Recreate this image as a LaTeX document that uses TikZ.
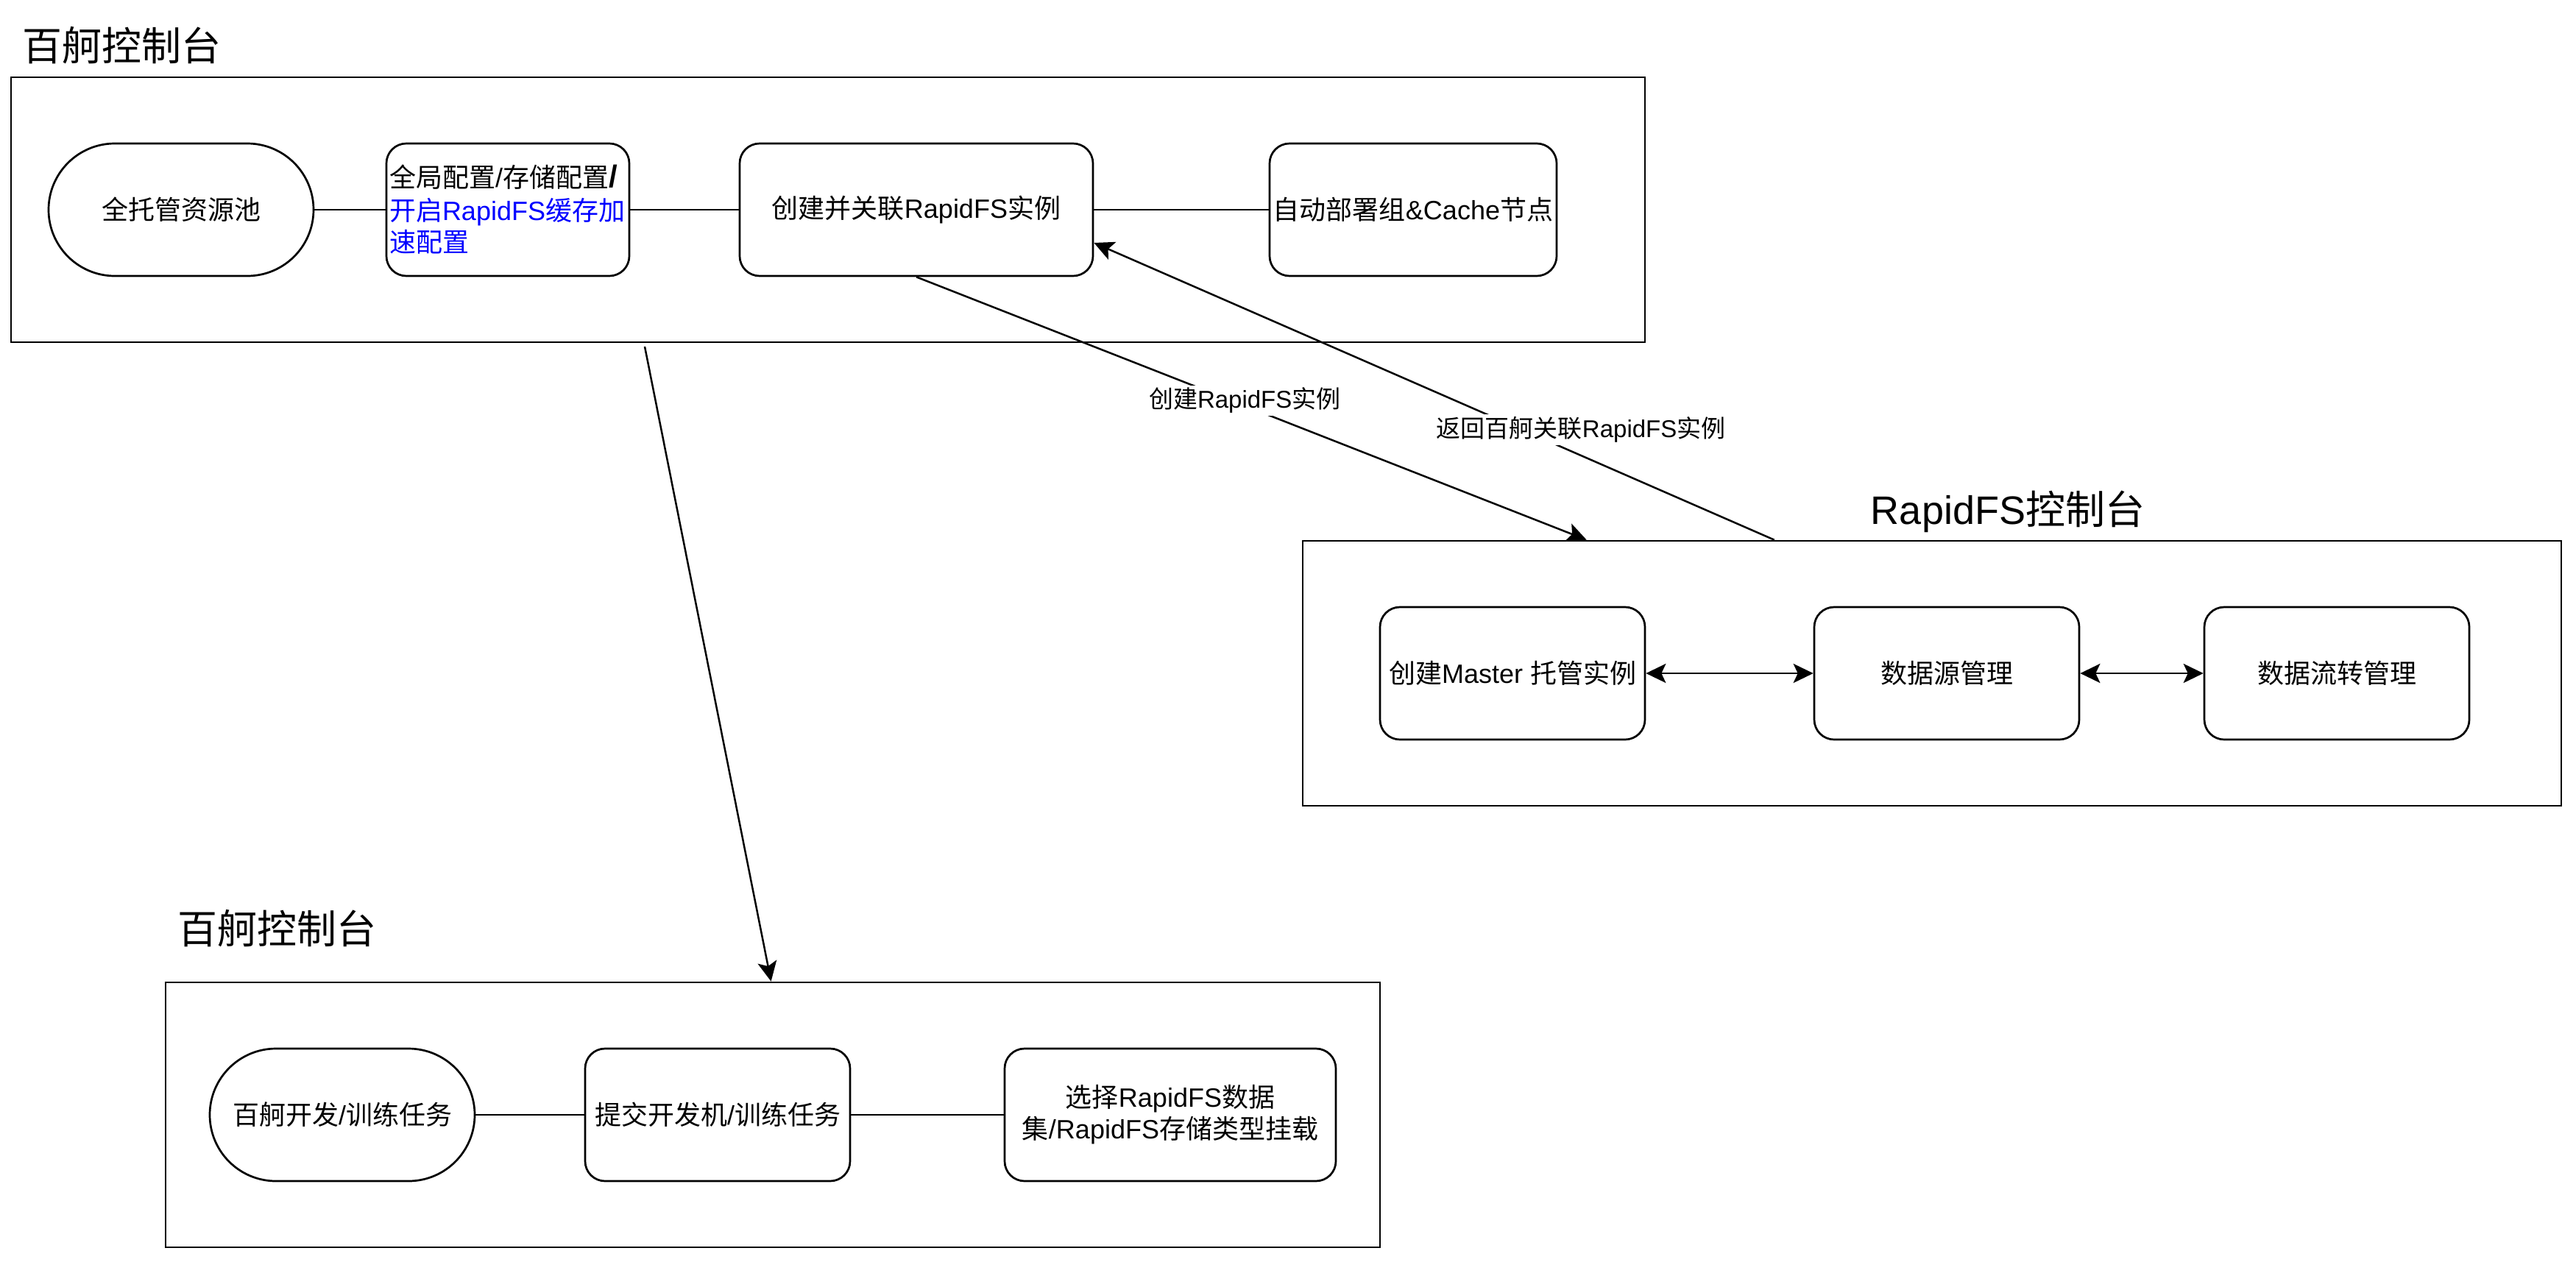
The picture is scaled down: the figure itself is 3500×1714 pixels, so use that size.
\documentclass[tikz,border=0pt]{standalone}
\usepackage{fontspec}
\setmainfont{Liberation Sans}
\newfontfamily\cjkf{Noto Sans CJK SC}
\newcommand{\zh}[1]{{\cjkf #1}}
\usetikzlibrary{arrows.meta,calc}
\definecolor{lblue}{RGB}{0,0,255}
\begin{document}
\begin{tikzpicture}[x=1pt,y=-1pt,
  container/.style={draw,line width=2.7pt,inner sep=0pt,minimum height=360pt},
  rbox/.style={draw,line width=2.7pt,rounded corners=27pt,minimum height=180pt,inner sep=2pt,
    font=\fontsize{36}{43}\selectfont,align=center},
  pill/.style={rbox,rounded corners=90pt},
  title/.style={inner sep=0pt,font=\fontsize{54}{60}\selectfont},
  conn/.style={line width=2.7pt},
  arr/.style={line width=2.5pt,-{Stealth[length=27pt,width=26pt,inset=6pt]}},
  darr/.style={line width=2.5pt,{Stealth[length=27pt,width=26pt,inset=6pt]}-{Stealth[length=27pt,width=26pt,inset=6pt]}},
  labsmall/.style={fill=white,inner sep=3pt,font=\fontsize{33}{36}\selectfont},
  labbig/.style={fill=white,inner sep=3pt,font=\fontsize{33}{36}\selectfont}
]
\useasboundingbox (0,0) rectangle (3500,1714);

% ---------- top console ----------
\node[title] (t1) at (165,62) {\zh{百舸控制台}};
\node[container,minimum width=2220pt] (topbox) at (1125,285) {};
\node[pill,minimum width=360pt] (n1) at (246,285) {\zh{全托管资源池}};
\node[rbox,minimum width=330pt,text width=322pt,align=left,inner sep=4pt] (n2) at (690,285)
  {\zh{全局配置}/\zh{存储配置}{\fontsize{42}{43}\selectfont\textbf{/}}\\[2pt]\textcolor{lblue}{\zh{开启}RapidFS\zh{缓存加}}\\\textcolor{lblue}{\zh{速配置}}};
\node[rbox,minimum width=480pt] (n3) at (1245,285) {\zh{创建并关联}RapidFS\zh{实例}};
\node[rbox,minimum width=390pt] (n4) at (1920,285) {\zh{自动部署组}\&Cache\zh{节点}};
\draw[conn] (n1) -- (n2);
\draw[conn] (n2) -- (n3);
\draw[conn] (n3) -- (n4);

% ---------- RapidFS console ----------
\node[title] (t2) at (2728,695) {RapidFS\zh{控制台}};
\node[container,minimum width=1710pt] (rb) at (2625,915) {};
\node[rbox,minimum width=360pt] (m1) at (2055,915) {\zh{创建}Master \zh{托管实例}};
\node[rbox,minimum width=360pt] (m2) at (2645,915) {\zh{数据源管理}};
\node[rbox,minimum width=360pt] (m3) at (3175,915) {\zh{数据流转管理}};
\draw[darr] (m1) -- (m2);
\draw[darr] (m2) -- (m3);

% ---------- bottom console ----------
\node[title] (t3) at (376,1262) {\zh{百舸控制台}};
\node[container,minimum width=1650pt] (bb) at (1050,1515) {};
\node[pill,minimum width=360pt] (b1) at (465,1515) {\zh{百舸开发}/\zh{训练任务}};
\node[rbox,minimum width=360pt] (b2) at (975,1515) {\zh{提交开发机}/\zh{训练任务}};
\node[rbox,minimum width=450pt] (b3) at (1590,1515) {\zh{选择}RapidFS\zh{数据}\\\zh{集}/RapidFS\zh{存储类型挂载}};
\draw[conn] (b1) -- (b2);
\draw[conn] (b2) -- (b3);

% ---------- cross connectors ----------
\coordinate (rIn) at ($(rb.north west)+(387,0)$);
\coordinate (rOut) at ($(rb.north west)+(642,0)$);
\coordinate (n3in) at ($(n3.east)+(0,45)$);
\coordinate (s3) at (876,471);
\coordinate (e3) at ($(bb.north west)+(824,0)$);

\draw[arr] (n3.south) -- node[labsmall,pos=0.49,yshift=7pt] (l1) {\zh{创建}RapidFS\zh{实例}} (rIn);
\draw[arr] (rOut) -- node[labbig,pos=0.284,yshift=35pt] (l2) {\zh{返回百舸关联}RapidFS\zh{实例}} (n3in);
\draw[arr] (s3) -- (e3);
\end{tikzpicture}
\end{document}
